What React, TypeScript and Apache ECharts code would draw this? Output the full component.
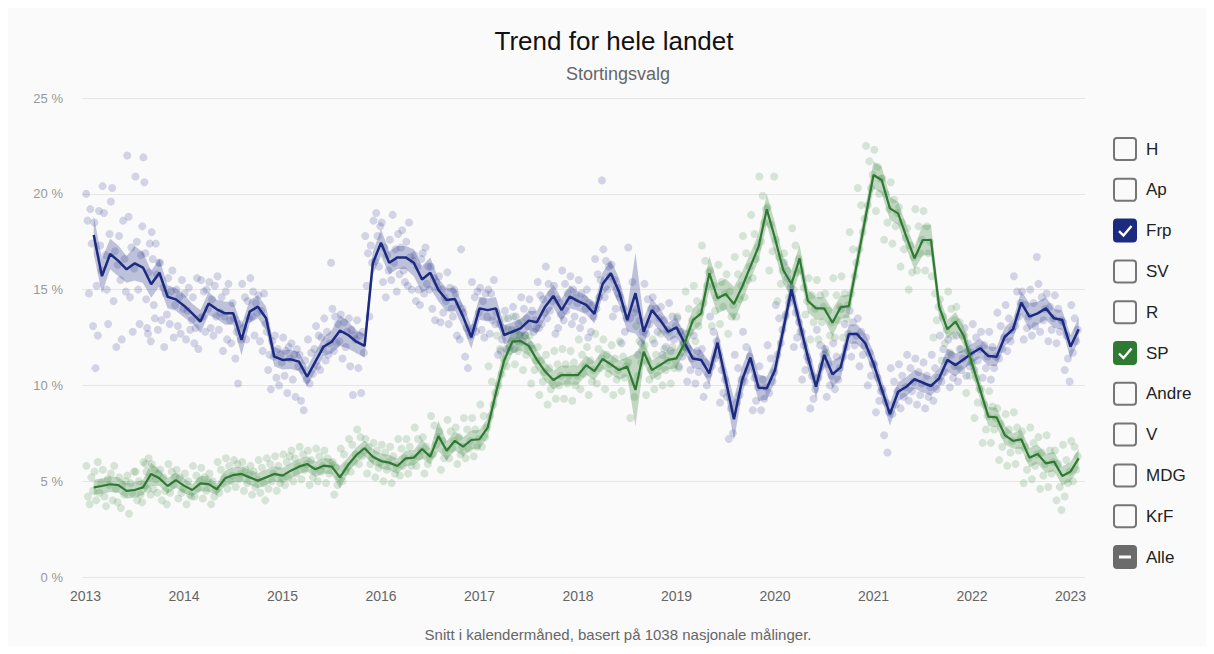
import React, { useEffect, useRef } from "react";
import * as echarts from "echarts";

// x values are months after 1 Jan 2013
const yearTicks = [2013, 2014, 2015, 2016, 2017, 2018, 2019, 2020, 2021, 2022, 2023];

const frpMean = [
  17.85, 15.7, 16.86, 16.5, 16.06, 16.37, 16.15, 15.28, 15.88, 14.63, 14.49, 14.16,
  13.76, 13.33, 14.28, 13.97, 13.76, 13.76, 12.37, 13.85, 14.11, 13.5, 11.5, 11.33,
  11.36, 11.24, 10.45, 11.24, 12.02, 12.28, 12.86, 12.63, 12.28, 12.06, 16.37, 17.45,
  16.4, 16.68, 16.68, 16.4, 15.53, 15.88, 14.98, 14.46, 14.51, 13.59, 12.51, 14.02,
  13.93, 14.02, 12.63, 12.8, 12.98, 13.38, 13.3, 14.11, 14.67, 13.93, 14.63, 14.4,
  14.2, 13.73, 15.29, 15.85, 14.89, 13.41, 14.81, 12.8, 13.93, 13.41, 12.8, 13.03,
  12.2, 11.4, 11.33, 10.63, 12.23, 10.28, 8.23, 10.28, 11.45, 9.88, 9.85, 10.8,
  12.89, 15.02, 13.24, 11.5, 9.93, 11.59, 10.58, 10.94, 12.68, 12.68, 12.2, 11.15,
  9.8, 8.5, 9.67, 9.93, 10.32, 10.14, 9.97, 10.37, 11.33, 11.06, 11.36, 11.68,
  11.94, 11.53, 11.5, 12.54, 12.93, 14.32, 13.59, 13.76, 14.02, 13.5, 13.41, 12.02, 12.93,
];

const spMean = [
  4.68, 4.75, 4.84, 4.8, 4.5, 4.54, 4.68, 5.38, 5.15, 4.75, 5.06, 4.77,
  4.54, 4.89, 4.85, 4.58, 5.15, 5.32, 5.38, 5.2, 5.03, 5.2, 5.38, 5.29,
  5.55, 5.76, 5.9, 5.62, 5.81, 5.76, 5.2, 5.85, 6.37, 6.72, 6.28, 6.05,
  5.97, 5.79, 6.19, 6.23, 6.68, 6.28, 7.36, 6.59, 7.11, 6.8, 7.15, 7.19,
  7.8, 9.6, 11.3, 12.28, 12.32, 12.06, 11.33, 10.72, 10.28, 10.54, 10.54, 10.54,
  11.06, 10.75, 11.38, 11.1, 10.8, 10.98, 9.76, 11.76, 10.8, 11.06, 11.33, 11.41,
  12.2, 13.41, 13.76, 15.85, 14.55, 14.77, 14.25, 15.15, 16.2, 17.24, 19.19, 17.68,
  16.02, 15.29, 16.63, 14.42, 14.02, 14.02, 13.27, 14.08, 14.14, 16.4, 18.7, 20.98,
  20.72, 19.24, 18.98, 17.76, 16.63, 17.59, 17.59, 14.11, 12.93, 13.33, 12.58, 11.15,
  9.76, 8.37, 8.33, 7.41, 7.1, 7.19, 6.23, 6.42, 5.93, 6.02, 5.27, 5.5, 6.19,
];

const frpBand = [
  1.0, 0.9, 0.8, 0.8, 0.7, 0.9, 0.8, 0.7, 0.7, 0.6, 0.6, 0.6,
  0.5, 0.6, 0.6, 0.5, 0.6, 0.6, 0.8, 0.6, 0.6, 0.6, 0.5, 0.5,
  0.5, 0.5, 0.5, 0.5, 0.5, 0.6, 0.8, 0.7, 0.6, 0.6, 0.6, 0.7,
  0.6, 0.6, 0.6, 0.7, 0.7, 0.8, 0.6, 0.6, 0.6, 0.6, 0.6, 0.6,
  0.6, 0.6, 0.5, 0.5, 0.5, 0.5, 0.6, 0.6, 0.6, 0.6, 0.6, 0.5,
  0.5, 0.5, 0.6, 0.7, 0.7, 0.6, 2.1, 0.7, 0.6, 0.6, 0.5, 0.5,
  0.5, 0.5, 0.5, 0.6, 0.6, 0.7, 1.1, 0.7, 0.6, 0.7, 0.6, 0.6,
  0.6, 0.6, 0.6, 0.6, 0.6, 0.6, 0.7, 0.6, 0.5, 0.5, 0.5, 0.6,
  0.5, 0.6, 0.5, 0.5, 0.5, 0.5, 0.5, 0.5, 0.6, 0.6, 0.5, 0.5,
  0.5, 0.5, 0.5, 0.5, 0.5, 0.6, 0.7, 0.6, 0.6, 0.5, 0.5, 0.6, 0.6,
];

const spBand = [
  0.4, 0.4, 0.4, 0.4, 0.4, 0.4, 0.4, 0.6, 0.4, 0.4, 0.4, 0.4,
  0.3, 0.4, 0.4, 0.3, 0.4, 0.4, 0.4, 0.4, 0.4, 0.4, 0.4, 0.4,
  0.4, 0.4, 0.4, 0.4, 0.4, 0.4, 0.6, 0.4, 0.4, 0.4, 0.4, 0.4,
  0.4, 0.4, 0.4, 0.4, 0.5, 0.4, 0.8, 0.5, 0.5, 0.5, 0.5, 0.5,
  0.5, 0.6, 0.6, 0.6, 0.5, 0.5, 0.5, 0.5, 0.5, 0.5, 0.5, 0.5,
  0.5, 0.5, 0.5, 0.5, 0.5, 0.5, 1.9, 0.6, 0.5, 0.5, 0.5, 0.5,
  0.5, 0.6, 0.6, 0.9, 0.8, 0.8, 0.9, 0.8, 0.7, 0.7, 0.8, 0.8,
  0.7, 0.7, 0.7, 0.6, 0.6, 0.6, 0.7, 0.6, 0.6, 0.6, 0.6, 0.7,
  0.7, 0.6, 0.6, 0.6, 0.6, 0.8, 0.8, 0.6, 0.5, 0.5, 0.5, 0.5,
  0.5, 0.5, 0.5, 0.5, 0.4, 0.5, 0.5, 0.5, 0.5, 0.5, 0.5, 0.5, 0.5,
];

// individual polls per calendar month (Frp)
const frpPolls = [
  [20.0, 18.6, 14.8, 19.2, 17.4, 13.1],
  [18.5, 10.9, 15.2, 12.6, 19.1, 17.3, 16.0],
  [20.4, 19.0, 16.8, 15.0, 13.2, 17.9],
  [19.6, 20.3, 14.4, 17.0, 12.0, 16.3],
  [17.8, 15.5, 12.4, 18.6, 16.6, 14.9],
  [22.0, 18.8, 14.6, 17.2, 12.8, 16.1],
  [20.9, 17.5, 15.0, 13.2, 16.8, 18.3],
  [21.9, 20.6, 16.9, 14.5, 13.0, 12.7, 15.9, 17.4, 12.3],
  [18.0, 16.6, 14.2, 13.5, 17.4, 15.8, 12.9, 16.4],
  [16.4, 13.4, 15.1, 12.0, 14.8, 13.7],
  [15.6, 13.2, 14.9, 16.0, 12.5, 14.2],
  [15.0, 13.1, 14.6, 12.7, 15.5, 14.0],
  [14.8, 12.4, 13.9, 15.1, 12.9, 13.4],
  [14.6, 12.2, 13.0, 15.6, 11.9, 13.5],
  [15.5, 13.6, 14.9, 12.8, 15.0, 14.0],
  [15.4, 13.0, 14.5, 12.6, 15.2, 13.6],
  [15.7, 12.9, 13.8, 14.6, 11.8, 13.6],
  [14.9, 12.4, 15.3, 13.4, 12.2, 14.3],
  [13.5, 11.4, 12.8, 10.1, 13.2, 12.4],
  [15.3, 13.0, 14.6, 12.4, 14.4, 13.5],
  [15.6, 13.6, 14.9, 12.6, 14.3, 13.8],
  [14.7, 12.3, 13.9, 11.8, 14.8, 13.2],
  [12.8, 10.8, 11.6, 9.8, 12.3, 11.5],
  [12.6, 10.4, 11.9, 10.0, 11.6, 11.2],
  [12.5, 10.5, 11.8, 9.6, 12.0, 11.4],
  [12.2, 10.3, 11.6, 9.4, 11.9, 11.0],
  [11.6, 9.2, 10.8, 8.7, 11.3, 10.3],
  [12.4, 10.1, 11.7, 10.6, 11.9],
  [13.1, 11.0, 12.6, 10.8, 12.5, 11.9],
  [13.5, 11.3, 12.8, 11.6, 12.2, 16.4],
  [14.0, 11.8, 13.6, 12.2, 13.2, 12.3],
  [13.7, 11.4, 13.3, 12.0, 12.8],
  [13.5, 11.0, 12.9, 9.5, 12.6, 12.4],
  [13.4, 10.9, 12.6, 9.6, 12.8, 11.7],
  [17.8, 15.2, 16.9, 13.6, 17.3, 16.4],
  [18.6, 16.5, 19.0, 17.8, 16.2, 18.3],
  [18.5, 15.4, 17.2, 14.6, 16.8, 16.0],
  [17.6, 15.5, 18.9, 16.4, 17.1, 14.9],
  [17.9, 15.8, 17.2, 18.1, 16.0, 15.4],
  [17.5, 15.2, 18.5, 16.7, 15.0, 16.5],
  [16.8, 14.4, 16.2, 15.0, 14.2, 16.6],
  [16.9, 14.8, 17.2, 15.3, 16.2, 15.0],
  [16.2, 14.0, 15.6, 13.4, 15.4, 15.1],
  [15.7, 13.3, 15.0, 13.8, 14.6, 14.4],
  [15.9, 13.2, 15.1, 14.0, 13.6, 15.0],
  [14.8, 12.6, 14.2, 12.4, 17.1, 14.0],
  [13.8, 11.5, 13.0, 10.9, 12.8, 12.6],
  [15.4, 13.0, 14.6, 12.8, 14.9, 13.8],
  [15.1, 12.9, 14.4, 12.5, 14.8, 13.6],
  [15.0, 12.7, 14.8, 13.4, 15.5, 13.2],
  [13.8, 11.6, 13.2, 11.8, 12.4, 13.0],
  [13.9, 11.9, 13.5, 12.0, 12.9],
  [14.1, 11.9, 13.6, 12.3, 13.2, 12.6],
  [14.6, 12.3, 14.0, 12.6, 13.5, 13.1],
  [14.5, 12.1, 13.9, 12.8, 13.4, 13.0],
  [15.4, 13.0, 14.7, 13.2, 14.5, 13.8],
  [16.2, 13.5, 15.3, 13.9, 14.8, 14.4],
  [15.2, 12.7, 14.5, 13.0, 14.3, 13.7],
  [16.0, 13.4, 15.3, 13.9, 14.8, 14.4],
  [15.7, 13.2, 15.0, 13.6, 14.6, 14.3],
  [15.5, 13.0, 14.8, 13.4, 14.5, 14.0],
  [15.0, 12.5, 14.3, 12.8, 14.2, 13.6],
  [16.6, 14.0, 15.8, 14.6, 15.5, 20.7],
  [17.1, 14.6, 16.5, 15.0, 16.2, 15.7],
  [16.3, 13.6, 15.5, 14.0, 15.1, 14.8],
  [14.6, 12.2, 14.0, 12.8, 13.5],
  [17.2, 13.5, 15.4, 13.8],
  [14.0, 11.6, 13.4, 12.2, 12.8],
  [15.3, 12.7, 14.5, 13.2, 14.0],
  [14.6, 12.2, 14.0, 12.8, 13.5],
  [14.1, 11.6, 13.4, 12.0, 12.9],
  [14.3, 11.8, 13.6, 12.4, 13.1],
  [13.5, 11.0, 12.8, 11.5, 12.2],
  [12.7, 10.2, 11.9, 10.8, 11.4],
  [12.6, 10.1, 11.8, 10.7, 11.5],
  [11.9, 9.4, 11.2, 10.0, 10.6],
  [13.6, 11.0, 12.8, 11.4, 12.3],
  [11.6, 9.1, 10.8, 9.6, 10.3],
  [9.4, 7.2, 8.8, 7.5],
  [11.6, 9.1, 10.9, 9.5, 10.3],
  [12.8, 10.2, 12.0, 10.8, 11.5],
  [11.2, 8.7, 10.4, 9.2, 9.9],
  [11.0, 8.7, 10.3, 9.3, 9.9],
  [12.1, 9.6, 11.4, 10.2, 10.7],
  [14.2, 11.6, 13.5, 12.2, 12.9],
  [16.4, 13.7, 15.6, 14.3, 15.1],
  [14.6, 12.0, 13.8, 12.5, 13.3],
  [12.8, 10.3, 12.1, 10.8, 11.5],
  [11.3, 8.8, 10.5, 9.3, 9.8],
  [12.9, 10.4, 12.1, 11.0, 11.6],
  [11.9, 9.4, 11.1, 10.0, 10.5],
  [12.2, 9.8, 11.5, 10.3, 10.9],
  [14.0, 11.5, 13.2, 12.0, 12.7],
  [13.9, 11.5, 13.3, 12.1, 12.6],
  [13.5, 11.0, 12.8, 11.6, 12.1],
  [12.5, 10.0, 11.7, 10.5, 11.1],
  [11.1, 8.6, 10.4, 9.2, 9.7],
  [9.8, 7.4, 9.1, 6.5, 8.6],
  [10.9, 8.5, 10.2, 9.0, 9.7],
  [11.1, 8.8, 10.5, 9.4, 9.9],
  [11.6, 9.2, 10.9, 9.7, 10.2],
  [11.4, 9.0, 10.7, 9.5, 10.1],
  [11.2, 8.8, 10.5, 9.4, 9.9],
  [11.6, 9.2, 10.9, 9.8, 10.4],
  [12.6, 10.2, 11.9, 10.7, 11.3],
  [12.4, 9.9, 11.6, 10.4, 11.0],
  [12.6, 10.2, 11.9, 10.8, 11.4],
  [13.0, 10.5, 12.2, 11.0, 11.7],
  [13.2, 10.8, 12.5, 11.3, 11.9],
  [12.8, 10.4, 12.1, 10.9, 11.5],
  [12.8, 10.3, 12.0, 10.9, 11.5],
  [13.8, 11.4, 13.1, 11.9, 12.5],
  [14.2, 11.8, 13.5, 12.3, 12.9],
  [15.7, 13.1, 14.9, 13.6, 14.3],
  [14.9, 12.4, 14.2, 13.0, 13.6],
  [15.0, 12.6, 14.3, 13.1, 16.7],
  [15.3, 12.8, 14.6, 13.4, 14.0],
  [14.8, 12.3, 14.1, 12.9, 13.5],
  [14.7, 12.2, 14.0, 12.8, 13.4],
  [13.3, 10.8, 12.6, 11.4, 10.2],
  [14.2, 11.7, 13.5, 12.3, 12.9],
];

// individual polls per calendar month (SP)
const spPolls = [
  [5.8, 4.2, 3.8, 5.2, 4.5],
  [5.5, 4.0, 6.0, 4.4, 4.9],
  [5.6, 4.2, 3.7, 5.1, 4.8],
  [5.4, 4.0, 5.8, 4.6, 3.9],
  [5.2, 3.6, 4.8, 4.3, 5.0],
  [5.3, 3.3, 4.9, 4.4, 5.5],
  [5.5, 4.0, 5.0, 4.3, 3.9],
  [6.0, 4.8, 5.9, 5.5, 4.6, 6.2, 5.2, 4.3],
  [5.9, 4.6, 5.6, 5.1, 4.4, 5.4],
  [5.6, 4.0, 5.2, 4.5, 3.8],
  [5.9, 4.4, 5.5, 4.8, 5.2],
  [5.6, 4.1, 5.2, 4.4, 4.6],
  [5.4, 3.8, 5.0, 4.3, 4.2],
  [5.8, 4.2, 5.3, 4.6, 5.0],
  [5.7, 4.1, 5.2, 4.5, 4.9],
  [5.4, 3.8, 5.0, 4.2, 4.6],
  [6.0, 4.4, 5.6, 4.9, 5.2],
  [6.2, 4.6, 5.8, 5.0, 5.3],
  [6.1, 4.7, 5.9, 5.1, 5.4],
  [6.0, 4.5, 5.6, 4.9, 5.3],
  [5.8, 4.3, 5.5, 4.7, 5.1],
  [6.1, 4.4, 5.7, 4.9, 4.0],
  [6.2, 4.6, 5.9, 5.0, 5.4],
  [6.3, 4.5, 5.8, 4.9, 5.2],
  [6.4, 4.8, 6.0, 5.2, 6.3],
  [6.6, 5.0, 6.2, 5.4, 5.8],
  [6.8, 5.1, 6.4, 5.6, 5.9],
  [6.6, 4.8, 6.1, 5.2, 5.6],
  [6.7, 5.0, 6.3, 5.5, 5.8],
  [6.6, 4.9, 6.2, 5.4, 5.8],
  [6.0, 4.3, 5.7, 4.8, 5.2],
  [6.7, 5.0, 6.4, 5.5, 5.8],
  [7.2, 5.5, 6.9, 6.0, 6.4],
  [7.7, 5.9, 7.3, 6.3, 6.6],
  [7.2, 5.4, 6.8, 5.9, 6.2],
  [7.0, 5.2, 6.6, 5.7, 6.0],
  [6.9, 5.0, 6.5, 5.6, 6.0],
  [6.8, 4.9, 6.3, 5.4, 5.8],
  [7.2, 5.3, 6.7, 5.8, 6.2],
  [7.2, 5.4, 6.8, 5.8, 6.2],
  [7.8, 5.8, 7.2, 6.3, 6.6],
  [7.3, 5.4, 6.8, 5.9, 6.3],
  [8.4, 6.4, 7.9, 6.9, 7.3],
  [7.6, 5.6, 7.1, 6.2, 6.6],
  [8.2, 6.2, 7.6, 6.7, 7.1],
  [7.8, 5.9, 7.3, 6.4, 6.8],
  [8.3, 6.2, 7.7, 6.7, 7.1],
  [8.3, 6.3, 7.7, 6.8, 7.2],
  [9.0, 6.8, 8.4, 7.3, 7.8],
  [11.0, 8.4, 10.2, 9.0, 9.6],
  [12.6, 10.0, 11.9, 10.6, 11.4],
  [13.5, 11.0, 12.9, 11.8, 12.3],
  [13.6, 11.1, 12.9, 11.8, 12.2],
  [13.3, 10.8, 12.6, 11.6, 12.0],
  [12.6, 10.1, 11.9, 10.8, 11.3],
  [12.0, 9.5, 11.3, 10.2, 10.7],
  [11.6, 9.0, 10.9, 9.8, 10.2],
  [11.8, 9.3, 11.1, 10.0, 10.5],
  [11.9, 9.3, 11.1, 10.1, 10.5],
  [11.8, 9.2, 11.2, 10.0, 10.5],
  [12.4, 9.8, 11.6, 10.6, 11.0],
  [12.0, 9.5, 11.3, 10.2, 10.8],
  [12.7, 10.1, 11.9, 10.9, 11.4],
  [12.4, 9.8, 11.6, 10.6, 11.1],
  [12.1, 9.5, 11.4, 10.3, 10.8],
  [12.3, 9.7, 11.5, 10.4, 11.0],
  [11.2, 8.3, 10.2, 9.4],
  [13.1, 10.5, 12.3, 11.2, 11.8],
  [12.1, 9.5, 11.3, 10.3, 10.8],
  [12.4, 9.8, 11.6, 10.5, 11.0],
  [12.7, 10.0, 11.9, 10.8, 11.3],
  [12.8, 10.1, 12.0, 10.9, 11.3],
  [13.6, 10.9, 12.8, 11.7, 12.0],
  [14.9, 12.0, 14.0, 12.8, 13.4],
  [15.2, 12.3, 14.4, 13.1, 13.8],
  [17.3, 14.3, 16.5, 15.2, 15.9],
  [16.0, 13.1, 15.2, 13.9, 14.6],
  [16.3, 13.2, 15.4, 14.1, 14.8],
  [15.8, 12.7, 14.9, 13.6, 14.2],
  [16.7, 13.6, 15.8, 14.5, 15.2],
  [17.8, 14.6, 16.9, 15.5, 16.2],
  [18.9, 15.6, 17.9, 16.6, 17.2],
  [20.9, 17.5, 19.9, 18.5, 19.2],
  [19.3, 16.0, 18.4, 17.0, 20.9],
  [17.6, 14.4, 16.7, 15.3, 16.0],
  [16.9, 13.6, 16.0, 14.6, 15.3],
  [18.2, 15.0, 17.3, 15.9, 16.6],
  [16.0, 12.8, 15.1, 13.7, 14.4],
  [15.6, 12.4, 14.7, 13.3, 14.0],
  [15.5, 12.4, 14.7, 13.3, 14.1],
  [14.8, 11.7, 13.9, 12.6, 13.3],
  [15.6, 12.5, 14.7, 13.4, 14.1],
  [15.7, 12.5, 14.8, 13.5, 14.2],
  [18.0, 14.8, 17.1, 15.7, 16.4],
  [20.3, 17.1, 19.4, 18.0, 18.7],
  [22.5, 19.4, 21.7, 20.3, 21.0],
  [22.3, 19.1, 21.4, 20.0, 20.8],
  [20.8, 17.6, 20.0, 18.5, 19.2],
  [20.6, 17.4, 19.7, 18.3, 19.0],
  [19.3, 16.2, 18.5, 17.1, 17.7],
  [18.2, 15.0, 17.3, 15.9, 16.7],
  [19.2, 16.0, 18.3, 16.9, 17.6],
  [19.1, 16.0, 18.3, 16.9, 17.5],
  [15.7, 12.5, 14.8, 13.4, 14.1],
  [14.5, 11.3, 13.6, 12.2, 12.9],
  [14.9, 11.7, 14.0, 12.6, 13.4],
  [14.1, 11.0, 13.3, 11.9, 12.6],
  [12.6, 9.6, 11.8, 10.5, 11.2],
  [11.2, 8.3, 10.4, 9.1, 9.8],
  [9.8, 7.0, 9.0, 7.7, 8.4],
  [9.7, 7.0, 8.9, 7.7, 8.3],
  [8.8, 6.1, 8.0, 6.8, 7.4],
  [8.5, 5.8, 7.7, 6.5, 7.1],
  [8.6, 5.9, 7.8, 6.6, 7.2],
  [7.6, 4.9, 6.8, 5.6, 6.2],
  [7.8, 5.1, 7.0, 5.8, 6.4],
  [7.3, 4.6, 6.5, 5.3, 5.9],
  [7.4, 4.7, 6.6, 5.4, 6.0],
  [6.6, 4.0, 5.9, 4.7, 3.5],
  [6.9, 4.2, 6.1, 4.9, 5.5],
  [7.1, 5.0, 6.8, 5.6, 6.3],
];

const legendItems = ["H", "Ap", "Frp", "SV", "R", "SP", "Andre", "V", "MDG", "KrF", "Alle"];

const FRP_COLOR = "#1c2a80";
const SP_COLOR = "#2e7a32";
const checkedColors: Record<string, string> = { Frp: FRP_COLOR, SP: SP_COLOR, Alle: "#6b6b6b" };

const FONT = "'Liberation Sans', Arial, Helvetica, sans-serif";

function meanPoints(mean: number[]) {
  return mean.map((v, k) => [k + 1, v]);
}
function pollPoints(polls: number[][]) {
  const out: number[][] = [];
  polls.forEach((arr, k) => {
    arr.forEach((v, j) => {
      out.push([k + (j + 0.5) / arr.length, v]);
    });
  });
  return out;
}

function bandSeries(name: string, mean: number[], band: number[], color: string) {
  const data = mean.map((v, k) => [k + 1, +(v - band[k]).toFixed(2), +(v + band[k]).toFixed(2)]);
  return {
    name,
    type: "custom",
    data,
    silent: true,
    z: 3,
    encode: { x: 0, y: [1, 2] },
    renderItem: (params: any, api: any) => {
      if (params.dataIndex !== 0) return null;
      const upper = data.map((d) => api.coord([d[0], d[2]]));
      const lower = data.map((d) => api.coord([d[0], d[1]])).reverse();
      return {
        type: "polygon",
        shape: { points: upper.concat(lower) },
        style: { fill: color },
      };
    },
  };
}

function buildLegend() {
  const children: any[] = [];
  legendItems.forEach((name, i) => {
    const cy = 141 + 40.8 * i;
    const bx = 1106;
    const by = cy - 11;
    const fill = checkedColors[name];
    children.push({
      type: "rect",
      shape: { x: bx, y: by, width: 22, height: 22, r: 3 },
      style: fill
        ? { fill, stroke: fill, lineWidth: 2 }
        : { fill: "rgba(0,0,0,0)", stroke: "#767676", lineWidth: 2 },
      silent: true,
    });
    if (name === "Alle") {
      children.push({
        type: "rect",
        shape: { x: bx + 5, y: cy - 1.5, width: 12, height: 3 },
        style: { fill: "#ffffff" },
        silent: true,
      });
    } else if (fill) {
      children.push({
        type: "polyline",
        shape: { points: [[bx + 5, cy + 0.5], [bx + 9.5, cy + 5], [bx + 17.5, cy - 4.5]] },
        style: { stroke: "#ffffff", lineWidth: 2.4, fill: "none" },
        silent: true,
      });
    }
    children.push({
      type: "text",
      x: 1138,
      y: cy,
      style: {
        text: name,
        fill: "#222222",
        font: `17px ${FONT}`,
        textVerticalAlign: "middle",
        verticalAlign: "middle",
      },
      silent: true,
    });
  });
  return children;
}

export default function App() {
  const ref = useRef<HTMLDivElement>(null);

  useEffect(() => {
    if (!ref.current) return;
    const chart = echarts.init(ref.current, undefined, { renderer: "svg" });

    const option: any = {
      animation: false,
      backgroundColor: "#fafafa",
      textStyle: { fontFamily: FONT },
      title: [
        {
          text: "Trend for hele landet",
          left: 601,
          top: 15,
          textAlign: "center",
          textStyle: { fontSize: 26, fontWeight: "normal", color: "#111111", fontFamily: FONT },
        },
        {
          text: "Stortingsvalg",
          left: 605,
          top: 52,
          textAlign: "center",
          textStyle: { fontSize: 18, fontWeight: "normal", color: "#666666", fontFamily: FONT },
        },
        {
          text: "Snitt i kalendermåned, basert på 1038 nasjonale målinger.",
          left: 605,
          top: 614,
          textAlign: "center",
          textStyle: { fontSize: 15, fontWeight: "normal", color: "#666666", fontFamily: FONT },
        },
      ],
      grid: { left: 74, right: 121, top: 90, bottom: 69, containLabel: false },
      xAxis: {
        type: "value",
        min: -0.43,
        max: 121.77,
        axisLine: { show: false },
        axisTick: { show: false },
        splitLine: { show: false },
        axisLabel: {
          customValues: yearTicks.map((y) => (y - 2013) * 12),
          formatter: (v: number) => String(Math.round(2013 + v / 12)),
          color: "#666666",
          fontSize: 14,
          margin: 12,
          fontFamily: FONT,
        },
      },
      yAxis: {
        type: "value",
        min: 0,
        max: 25,
        interval: 5,
        axisLine: { show: false },
        axisTick: { show: false },
        splitLine: { lineStyle: { color: "#e6e6e6", width: 1 } },
        axisLabel: {
          formatter: "{value} %",
          color: "#999999",
          fontSize: 13,
          margin: 19,
          fontFamily: FONT,
        },
      },
      graphic: { elements: buildLegend() },
      series: [
        {
          name: "Frp målinger",
          type: "scatter",
          data: pollPoints(frpPolls),
          symbolSize: 8,
          itemStyle: { color: "rgba(40,52,140,0.24)" },
          silent: true,
          z: 2,
        },
        {
          name: "SP målinger",
          type: "scatter",
          data: pollPoints(spPolls),
          symbolSize: 8,
          itemStyle: { color: "rgba(46,125,50,0.22)" },
          silent: true,
          z: 2,
        },
        bandSeries("Frp bånd", frpMean, frpBand, "rgba(31,45,134,0.28)"),
        bandSeries("SP bånd", spMean, spBand, "rgba(46,125,50,0.28)"),
        {
          name: "Frp",
          type: "line",
          data: meanPoints(frpMean),
          symbol: "none",
          lineStyle: { color: FRP_COLOR, width: 2.5 },
          itemStyle: { color: FRP_COLOR },
          z: 5,
        },
        {
          name: "SP",
          type: "line",
          data: meanPoints(spMean),
          symbol: "none",
          lineStyle: { color: SP_COLOR, width: 2.2 },
          itemStyle: { color: SP_COLOR },
          z: 5,
        },
      ],
    };

    chart.setOption(option);
    return () => chart.dispose();
  }, []);

  return <div ref={ref} style={{ width: 1198, height: 638 }} />;
}
